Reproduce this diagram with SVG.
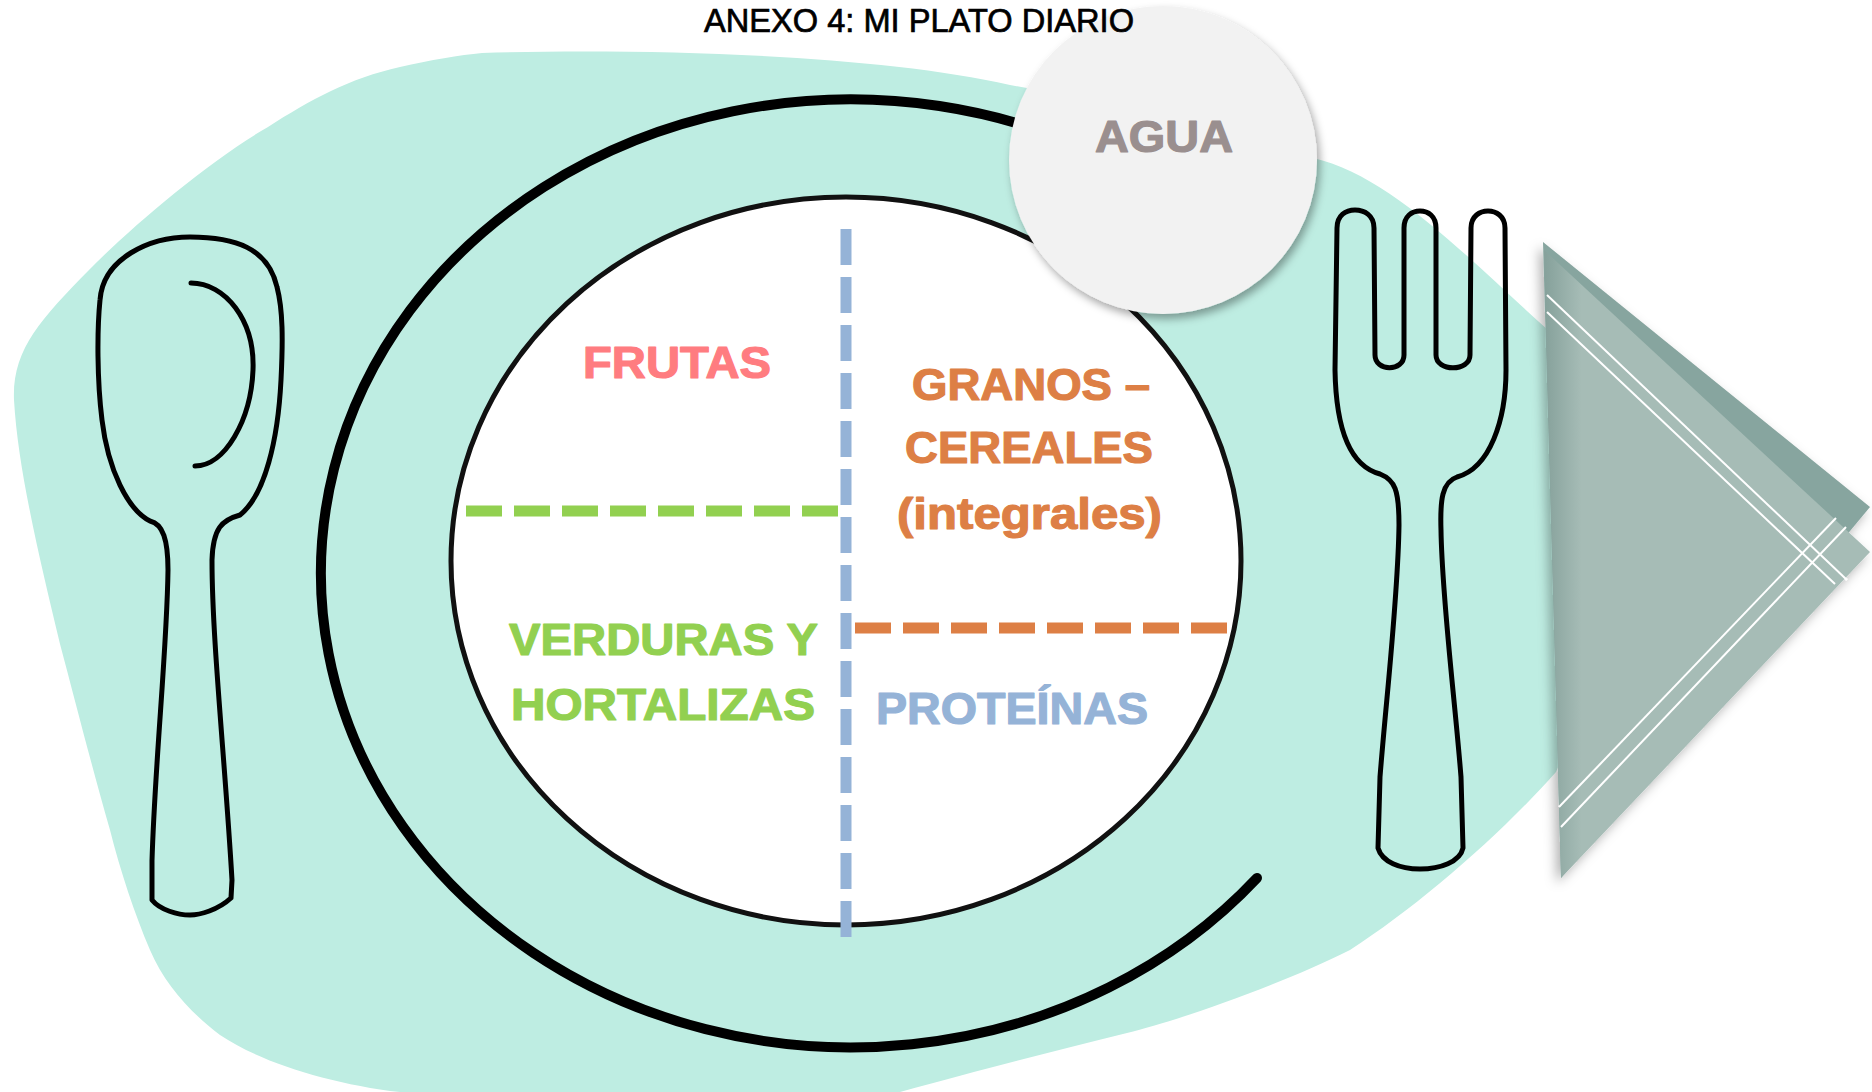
<svg xmlns="http://www.w3.org/2000/svg" width="1872" height="1092" viewBox="0 0 1872 1092">
  <defs>
    <style>
      .title { font-family: "Liberation Sans", Arial, sans-serif; font-size: 34px; fill: #000; stroke: #000; stroke-width: 0.7; }
      .lbl { font-family: "Liberation Sans", Arial, sans-serif; font-weight: bold; font-size: 45px; stroke-width: 1.2; stroke-linejoin: round; }
      .outline { fill: none; stroke: #000; stroke-width: 5; stroke-linejoin: round; stroke-linecap: round; }
      .dash { fill: none; stroke-width: 11; stroke-dasharray: 36 12; }
      .napline { stroke: #ffffff; stroke-width: 2; fill: none; }
    </style>
    <filter id="circleShadow" x="-20%" y="-20%" width="150%" height="150%">
      <feDropShadow dx="3" dy="5" stdDeviation="4" flood-color="#000" flood-opacity="0.35"/>
    </filter>
    <filter id="napShadow" x="-30%" y="-20%" width="160%" height="150%">
      <feDropShadow dx="-4" dy="5" stdDeviation="6" flood-color="#000" flood-opacity="0.3"/>
    </filter>
    <linearGradient id="napFront" x1="1546" y1="0" x2="1868" y2="0" gradientUnits="userSpaceOnUse">
      <stop offset="0" stop-color="#87a29c"/>
      <stop offset="0.11" stop-color="#a6bcb6"/>
      <stop offset="1" stop-color="#a6bcb6"/>
    </linearGradient>
  </defs>

  <rect width="1872" height="1092" fill="#ffffff"/>

  <!-- placemat -->
  <path id="placemat" fill="#beede2" d="M 482,53 C 650,48 880,55 1010,85 L 1200,120 L 1313,158 C 1390,175 1470,260 1548,330 L 1650,550 L 1556,772 C 1500,835 1420,905 1350,950 C 1280,985 1180,1020 1127,1033 C 1050,1052 980,1070 900,1092 L 400,1092 C 330,1084 260,1062 220,1035 C 190,1012 165,985 150,950 C 135,915 120,870 110,830 C 90,760 75,700 60,644 C 40,560 18,470 14,400 C 12,350 40,320 89,270 C 130,228 210,160 268,127 C 310,100 350,78 400,67 C 430,60 460,55 482,53 Z"/>

  <!-- plate -->
  <g id="plate">
    <path d="M 1120,165 A 530 474 0 1 0 1257,878" fill="none" stroke="#000" stroke-width="10" stroke-linecap="round"/>
    <ellipse cx="846" cy="561" rx="395" ry="364" fill="#ffffff" stroke="#111" stroke-width="5"/>
  </g>

  <!-- dividers -->
  <g id="connectors">
    <line class="dash" x1="466" y1="511" x2="838" y2="511" stroke="#92d050"/>
    <line class="dash" x1="855" y1="628" x2="1227" y2="628" stroke="#dd7f45"/>
    <line class="dash" x1="846" y1="229" x2="846" y2="937" stroke="#95b3d7"/>
  </g>

  <g id="frutas" fill="#ff7c80" stroke="#ff7c80">
    <text class="lbl" x="583" y="378" textLength="188" lengthAdjust="spacingAndGlyphs">FRUTAS</text>
  </g>
  <g id="granos" fill="#dd7f45" stroke="#dd7f45">
    <text class="lbl" x="912" y="400" textLength="238" lengthAdjust="spacingAndGlyphs">GRANOS –</text>
    <text class="lbl" x="905" y="463" textLength="248" lengthAdjust="spacingAndGlyphs">CEREALES</text>
    <text class="lbl" x="897" y="529" textLength="265" lengthAdjust="spacingAndGlyphs">(integrales)</text>
  </g>
  <g id="verduras" fill="#92d050" stroke="#92d050">
    <text class="lbl" x="509" y="655" textLength="309" lengthAdjust="spacingAndGlyphs">VERDURAS Y</text>
    <text class="lbl" x="511" y="720" textLength="304" lengthAdjust="spacingAndGlyphs">HORTALIZAS</text>
  </g>
  <g id="proteinas" fill="#95b3d7" stroke="#95b3d7">
    <text class="lbl" x="876" y="724" textLength="272" lengthAdjust="spacingAndGlyphs">PROTEÍNAS</text>
  </g>

  <!-- water glass -->
  <g id="agua">
    <circle cx="1163" cy="160" r="154" fill="#f2f2f2" filter="url(#circleShadow)"/>
    <text class="lbl" x="1095" y="152" fill="#9a8f8f" stroke="#9a8f8f" textLength="138" lengthAdjust="spacingAndGlyphs">AGUA</text>
  </g>

  <text class="title" x="704" y="32" textLength="430" lengthAdjust="spacingAndGlyphs">ANEXO 4: MI PLATO DIARIO</text>

  <!-- spoon -->
  <g id="spoon">
    <path class="outline" d="M 190,237 C 235,237 268,248 277,287 C 283,310 283,340 281,380 C 278,440 265,495 240,515 C 222,520 213,528 212,560 C 212,640 225,760 232,880 L 231,898 C 218,910 200,915 190,915 C 178,915 160,910 152,900 L 152,861 C 155,760 167,650 168,570 C 168,540 163,524 150,521 C 128,510 108,470 102,420 C 97,380 97,330 100,300 C 103,258 150,237 190,237 Z"/>
    <path class="outline" d="M 191,283 C 225,283 255,320 253,370 C 251,420 225,466 195,466"/>
  </g>

  <!-- fork -->
  <g id="fork">
    <path class="outline" d="M 1337,228 C 1337,215 1346,210 1355,210 C 1364,210 1374,215 1374,228 L 1375,355 C 1375,372 1404,372 1404,355 L 1404,228 C 1404,216 1412,211 1420,211 C 1428,211 1436,216 1436,228 L 1436,355 C 1436,372 1470,372 1470,355 L 1471,228 C 1471,216 1480,211 1488,211 C 1496,211 1505,216 1505,228 L 1506,370 C 1506,420 1490,468 1457,477 C 1442,482 1440,500 1441,530 C 1442,600 1455,700 1461,777 L 1463,848 C 1460,862 1440,869 1420,869 C 1400,869 1382,862 1378,848 L 1380,777 C 1386,700 1398,600 1399,525 C 1399,490 1395,480 1380,474 C 1350,466 1336,430 1335,370 Z"/>
  </g>

  <!-- napkin -->
  <g id="napkin" filter="url(#napShadow)">
    <polygon points="1543,242 1870,507 1561,878" fill="#87a59f"/>
    <polygon points="1544,250 1870,552 1561,878" fill="url(#napFront)"/>
    <line class="napline" x1="1547" y1="295" x2="1847" y2="580"/>
    <line class="napline" x1="1547" y1="312" x2="1835" y2="584"/>
    <line class="napline" x1="1836" y1="518" x2="1559" y2="807"/>
    <line class="napline" x1="1846" y1="527" x2="1561" y2="827"/>
  </g>
</svg>
